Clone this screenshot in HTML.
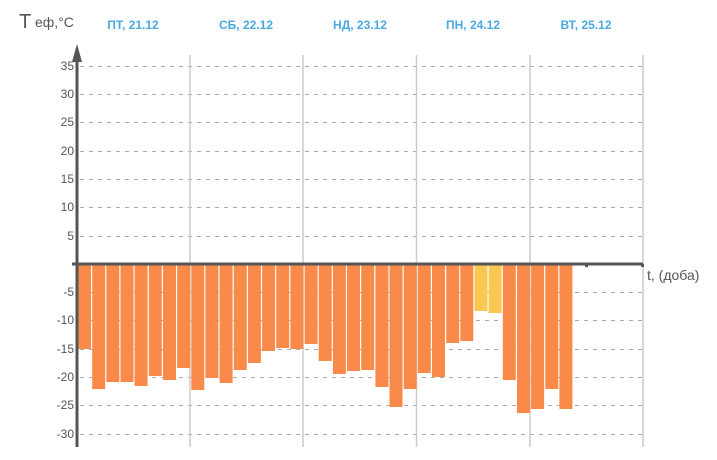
<!DOCTYPE html><html><head><meta charset="utf-8"><style>body{margin:0;background:#fff}</style></head><body>
<svg width="717" height="455" xmlns="http://www.w3.org/2000/svg" font-family="Liberation Sans, sans-serif">
<g stroke="#aaa" stroke-dasharray="4,5" stroke-width="1">
<line x1="80" x2="643" y1="66.5" y2="66.5"/><line x1="80" x2="643" y1="94.5" y2="94.5"/><line x1="80" x2="643" y1="122.5" y2="122.5"/><line x1="80" x2="643" y1="151.5" y2="151.5"/><line x1="80" x2="643" y1="179.5" y2="179.5"/><line x1="80" x2="643" y1="207.5" y2="207.5"/><line x1="80" x2="643" y1="236.5" y2="236.5"/>
<line x1="80" x2="643" y1="292.5" y2="292.5"/><line x1="80" x2="643" y1="320.5" y2="320.5"/><line x1="80" x2="643" y1="349.5" y2="349.5"/><line x1="80" x2="643" y1="377.5" y2="377.5"/><line x1="80" x2="643" y1="405.5" y2="405.5"/><line x1="80" x2="643" y1="434.5" y2="434.5"/>
</g>
<g stroke="#ccc" stroke-width="1.5"><line x1="190" x2="190" y1="55" y2="447"/><line x1="303" x2="303" y1="55" y2="447"/><line x1="416.5" x2="416.5" y1="55" y2="447"/><line x1="530" x2="530" y1="55" y2="447"/><line x1="643" x2="643" y1="55" y2="447"/></g>
<g fill="#f98a4a">
<rect x="78" y="265" width="13" height="84"/>
<rect x="92.2" y="265" width="13" height="124"/>
<rect x="106.3" y="265" width="13" height="117"/>
<rect x="120.5" y="265" width="13" height="117"/>
<rect x="134.6" y="265" width="13" height="121"/>
<rect x="148.8" y="265" width="13" height="111"/>
<rect x="163" y="265" width="13" height="115"/>
<rect x="177.1" y="265" width="13" height="103"/>
<rect x="191.3" y="265" width="13" height="125"/>
<rect x="205.4" y="265" width="13" height="113"/>
<rect x="219.6" y="265" width="13" height="118"/>
<rect x="233.8" y="265" width="13" height="105"/>
<rect x="247.9" y="265" width="13" height="98"/>
<rect x="262.1" y="265" width="13" height="86"/>
<rect x="276.2" y="265" width="13" height="83"/>
<rect x="290.4" y="265" width="13" height="84"/>
<rect x="304.6" y="265" width="13" height="79"/>
<rect x="318.7" y="265" width="13" height="96"/>
<rect x="332.9" y="265" width="13" height="109"/>
<rect x="347" y="265" width="13" height="106"/>
<rect x="361.2" y="265" width="13" height="105"/>
<rect x="375.4" y="265" width="13" height="122"/>
<rect x="389.5" y="265" width="13" height="142"/>
<rect x="403.7" y="265" width="13" height="124"/>
<rect x="417.8" y="265" width="13" height="108"/>
<rect x="432" y="265" width="13" height="112"/>
<rect x="446.2" y="265" width="13" height="78"/>
<rect x="460.3" y="265" width="13" height="76"/>
<rect x="474.5" y="265" width="13" height="46" fill="#f8c852"/>
<rect x="488.6" y="265" width="13" height="48" fill="#f8c852"/>
<rect x="502.8" y="265" width="13" height="115"/>
<rect x="517" y="265" width="13" height="148"/>
<rect x="531.1" y="265" width="13" height="144"/>
<rect x="545.3" y="265" width="13" height="124"/>
<rect x="559.4" y="265" width="13" height="144"/>
</g>
<g stroke="#555" stroke-width="3"><line x1="77" x2="77" y1="55" y2="447"/><line x1="72" x2="643" y1="264" y2="264"/></g>
<polygon points="77,44 72,62 82,62" fill="#555"/>
<g fill="#555"><rect x="585" y="264" width="3" height="3"/><rect x="641" y="264" width="3" height="3"/></g>
<g font-size="12" fill="#555" text-anchor="end">
<text x="74" y="70">35</text><text x="74" y="98">30</text><text x="74" y="126">25</text><text x="74" y="155">20</text><text x="74" y="183">15</text><text x="74" y="211">10</text><text x="74" y="240">5</text>
<text x="74" y="296">-5</text><text x="74" y="324">-10</text><text x="74" y="353">-15</text><text x="74" y="381">-20</text><text x="74" y="409">-25</text><text x="74" y="438">-30</text></g>
<text x="19" y="28" font-size="20" fill="#555">T</text><text x="35" y="27" font-size="14" fill="#555">еф,°C</text>
<text x="647" y="280" font-size="14" fill="#555">t, (доба)</text>
<g font-size="12" font-weight="bold" fill="#4aa8e0" text-anchor="middle"><text x="133" y="29">ПТ, 21.12</text><text x="246" y="29">СБ, 22.12</text><text x="360" y="29">НД, 23.12</text><text x="473" y="29">ПН, 24.12</text><text x="586" y="29">ВТ, 25.12</text></g>
</svg></body></html>
